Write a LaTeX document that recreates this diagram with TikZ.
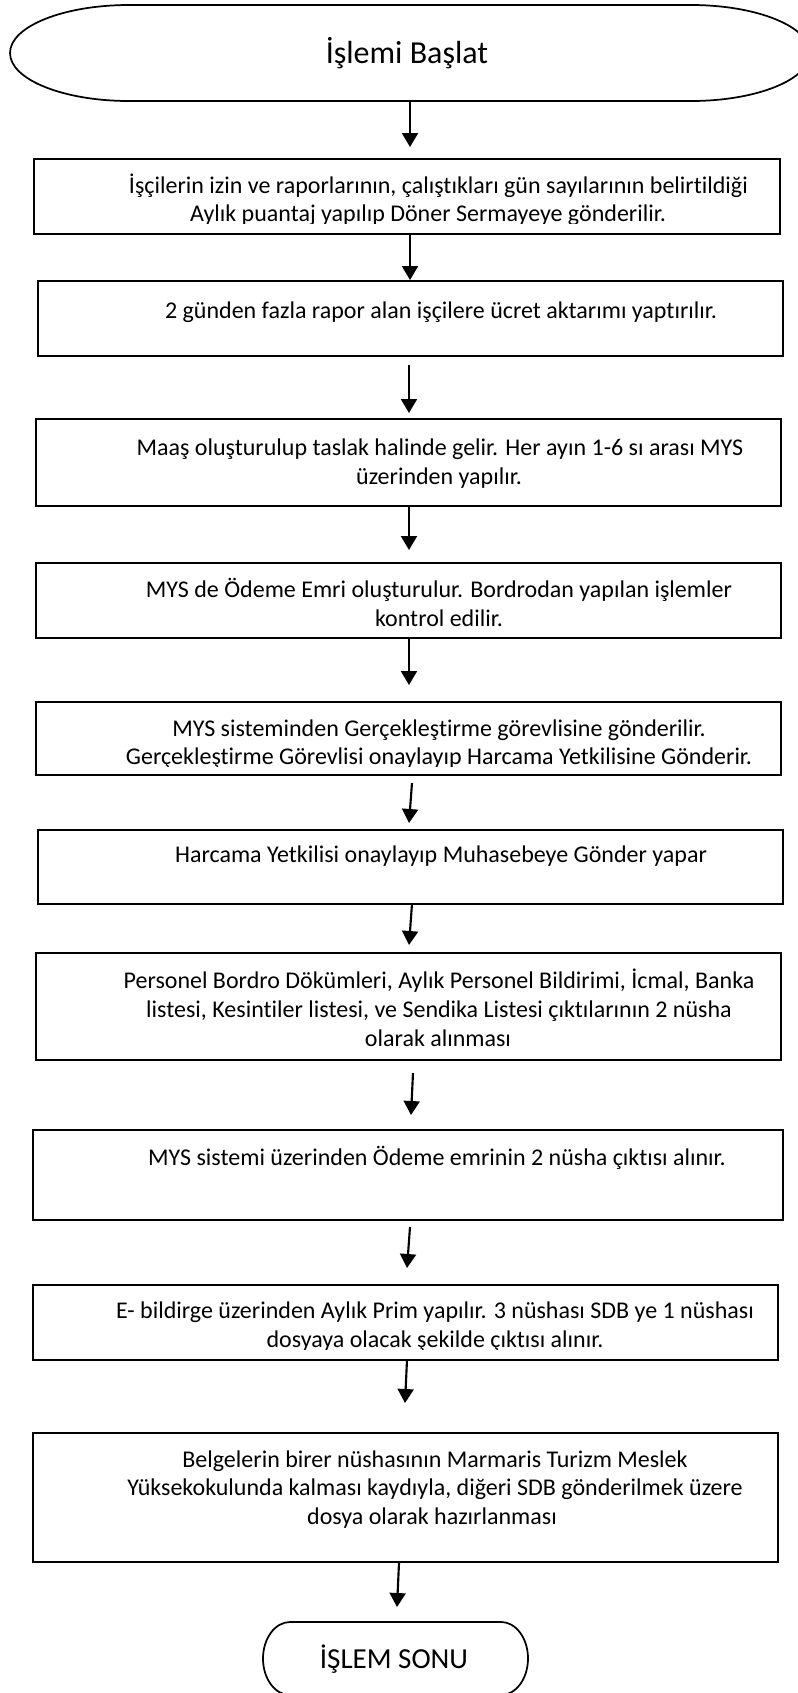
\documentclass[tikz,border=0pt]{standalone}
\usepackage{fontspec}
\setmainfont{Carlito}[Ligatures={NoCommon}]
\usetikzlibrary{arrows.meta}
\tikzset{
  box/.style={draw, line width=1.5pt, inner sep=0pt, rectangle},
  oval/.style={draw, line width=1.3pt},
  txt/.style={inner sep=0pt, anchor=base, font=\fontsize{18pt}{21.4pt}\selectfont},
  arr/.style={line width=1.6pt, -{Triangle[width=12pt,length=10.5pt]}},
}
\begin{document}
\begin{tikzpicture}[x=0.75pt,y=-0.75pt]
\useasboundingbox (0,0) rectangle (797,1693);
% start terminator
\draw[oval] (129,5) arc[start angle=90,end angle=270,x radius=89.25pt,y radius=36pt]
  -- (691,101) arc[start angle=-90,end angle=90,x radius=89.25pt,y radius=36pt] -- cycle;
\node[inner sep=0pt, anchor=base, font=\fontsize{24pt}{28pt}\selectfont] (start) at (407,63) {İşlemi Başlat};
% boxes
\node[box, minimum width=559.5pt,  minimum height=56.25pt] (b1)  at (407,196.5) {};
\node[box, minimum width=558.75pt, minimum height=56.25pt] (b2)  at (410.5,318.5) {};
\node[box, minimum width=558.75pt, minimum height=65.25pt] (b3)  at (408.5,462.5) {};
\node[box, minimum width=558.75pt, minimum height=56.25pt] (b4)  at (408.5,600.5) {};
\node[box, minimum width=558.75pt, minimum height=54.75pt] (b5)  at (408.5,738.5) {};
\node[box, minimum width=558.75pt, minimum height=55.5pt]  (b6)  at (410.5,867) {};
\node[box, minimum width=558.75pt, minimum height=80.25pt] (b7)  at (408.5,1006.5) {};
\node[box, minimum width=562.5pt,  minimum height=67.5pt]  (b8)  at (408,1175) {};
\node[box, minimum width=558.75pt, minimum height=56.25pt] (b9)  at (405.5,1322.5) {};
\node[box, minimum width=558.75pt, minimum height=96.75pt] (b10) at (405.5,1497.5) {};
% texts
\node[txt] (t1a) at (438.5,193) {İşçilerin izin ve raporlarının, çalıştıkları gün sayılarının belirtildiği};
\begin{scope}
\clip (34,198) rectangle (780,223.5);
\node[txt] (t1b) at (428,221) {Aylık puantaj yapılıp Döner Sermayeye gönderilir.};
\end{scope}
\node[txt] (t2a) at (441,318) {2 günden fazla rapor alan işçilere ücret aktarımı yaptırılır.};
\node[txt] (t3a) at (440,455) {Maaş oluşturulup taslak halinde gelir. Her ayın 1-6 sı arası MYS};
\node[txt] (t3b) at (439,484) {üzerinden yapılır.};
\node[txt] (t4a) at (439,597) {MYS de Ödeme Emri oluşturulur. Bordrodan yapılan işlemler};
\node[txt] (t4b) at (439,626) {kontrol edilir.};
\node[txt] (t5a) at (439,736) {MYS sisteminden Gerçekleştirme görevlisine gönderilir.};
\begin{scope}
\clip (36,741) rectangle (781,766.5);
\node[txt] (t5b) at (439,764) {Gerçekleştirme Görevlisi onaylayıp Harcama Yetkilisine Gönderir.};
\end{scope}
\node[txt] (t6a) at (441,862) {Harcama Yetkilisi onaylayıp Muhasebeye Gönder yapar};
\node[txt] (t7a) at (439,988) {Personel Bordro Dökümleri, Aylık Personel Bildirimi, İcmal, Banka};
\node[txt] (t7b) at (439,1017) {listesi, Kesintiler listesi, ve Sendika Listesi çıktılarının 2 nüsha};
\node[txt] (t7c) at (438,1046) {olarak alınması};
\node[txt] (t8a) at (437,1165) {MYS sistemi üzerinden Ödeme emrinin 2 nüsha çıktısı alınır.};
\node[txt] (t9a) at (435,1318) {E- bildirge üzerinden Aylık Prim yapılır. 3 nüshası SDB ye 1 nüshası};
\begin{scope}
\clip (33,1323) rectangle (778,1349.5);
\node[txt] (t9b) at (435,1347) {dosyaya olacak şekilde çıktısı alınır.};
\end{scope}
\node[txt] (t10a) at (435,1467) {Belgelerin birer nüshasının Marmaris Turizm Meslek};
\node[txt] (t10b) at (435,1495.5) {Yüksekokulunda kalması kaydıyla, diğeri SDB gönderilmek üzere};
\node[txt] (t10c) at (432,1524) {dosya olarak hazırlanması};
% end terminator (its lower edge lies just below the page)
\draw[oval] (290,1622) arc[start angle=90,end angle=270,x radius=20.25pt,y radius=27.4pt]
  -- (501,1695) arc[start angle=-90,end angle=90,x radius=20.25pt,y radius=27.4pt] -- cycle;
\node[inner sep=0pt, anchor=base, font=\fontsize{21.75pt}{26pt}\selectfont] (end) at (394,1668) {İŞLEM SONU};
% arrow end points
\coordinate (a1s) at (410,101);   \coordinate (a1e) at (410,147);
\coordinate (a2s) at (410,234);   \coordinate (a2e) at (410,280);
\coordinate (a3s) at (409,365);   \coordinate (a3e) at (409,413);
\coordinate (a4s) at (409,506);   \coordinate (a4e) at (409,550);
\coordinate (a5s) at (409,638);   \coordinate (a5e) at (409,685);
\coordinate (a6s) at (412,783);   \coordinate (a6e) at (409,823);
\coordinate (a7s) at (412,904);   \coordinate (a7e) at (409,945);
\coordinate (a8s) at (413,1073);  \coordinate (a8e) at (411,1115);
\coordinate (a9s) at (410,1227);  \coordinate (a9e) at (407,1268);
\coordinate (a10s) at (407,1360); \coordinate (a10e) at (405,1403);
\coordinate (a11s) at (399,1563); \coordinate (a11e) at (397,1607);
\foreach \i in {1,...,11} { \draw[arr] (a\i s) -- (a\i e); }
\end{tikzpicture}
\end{document}
